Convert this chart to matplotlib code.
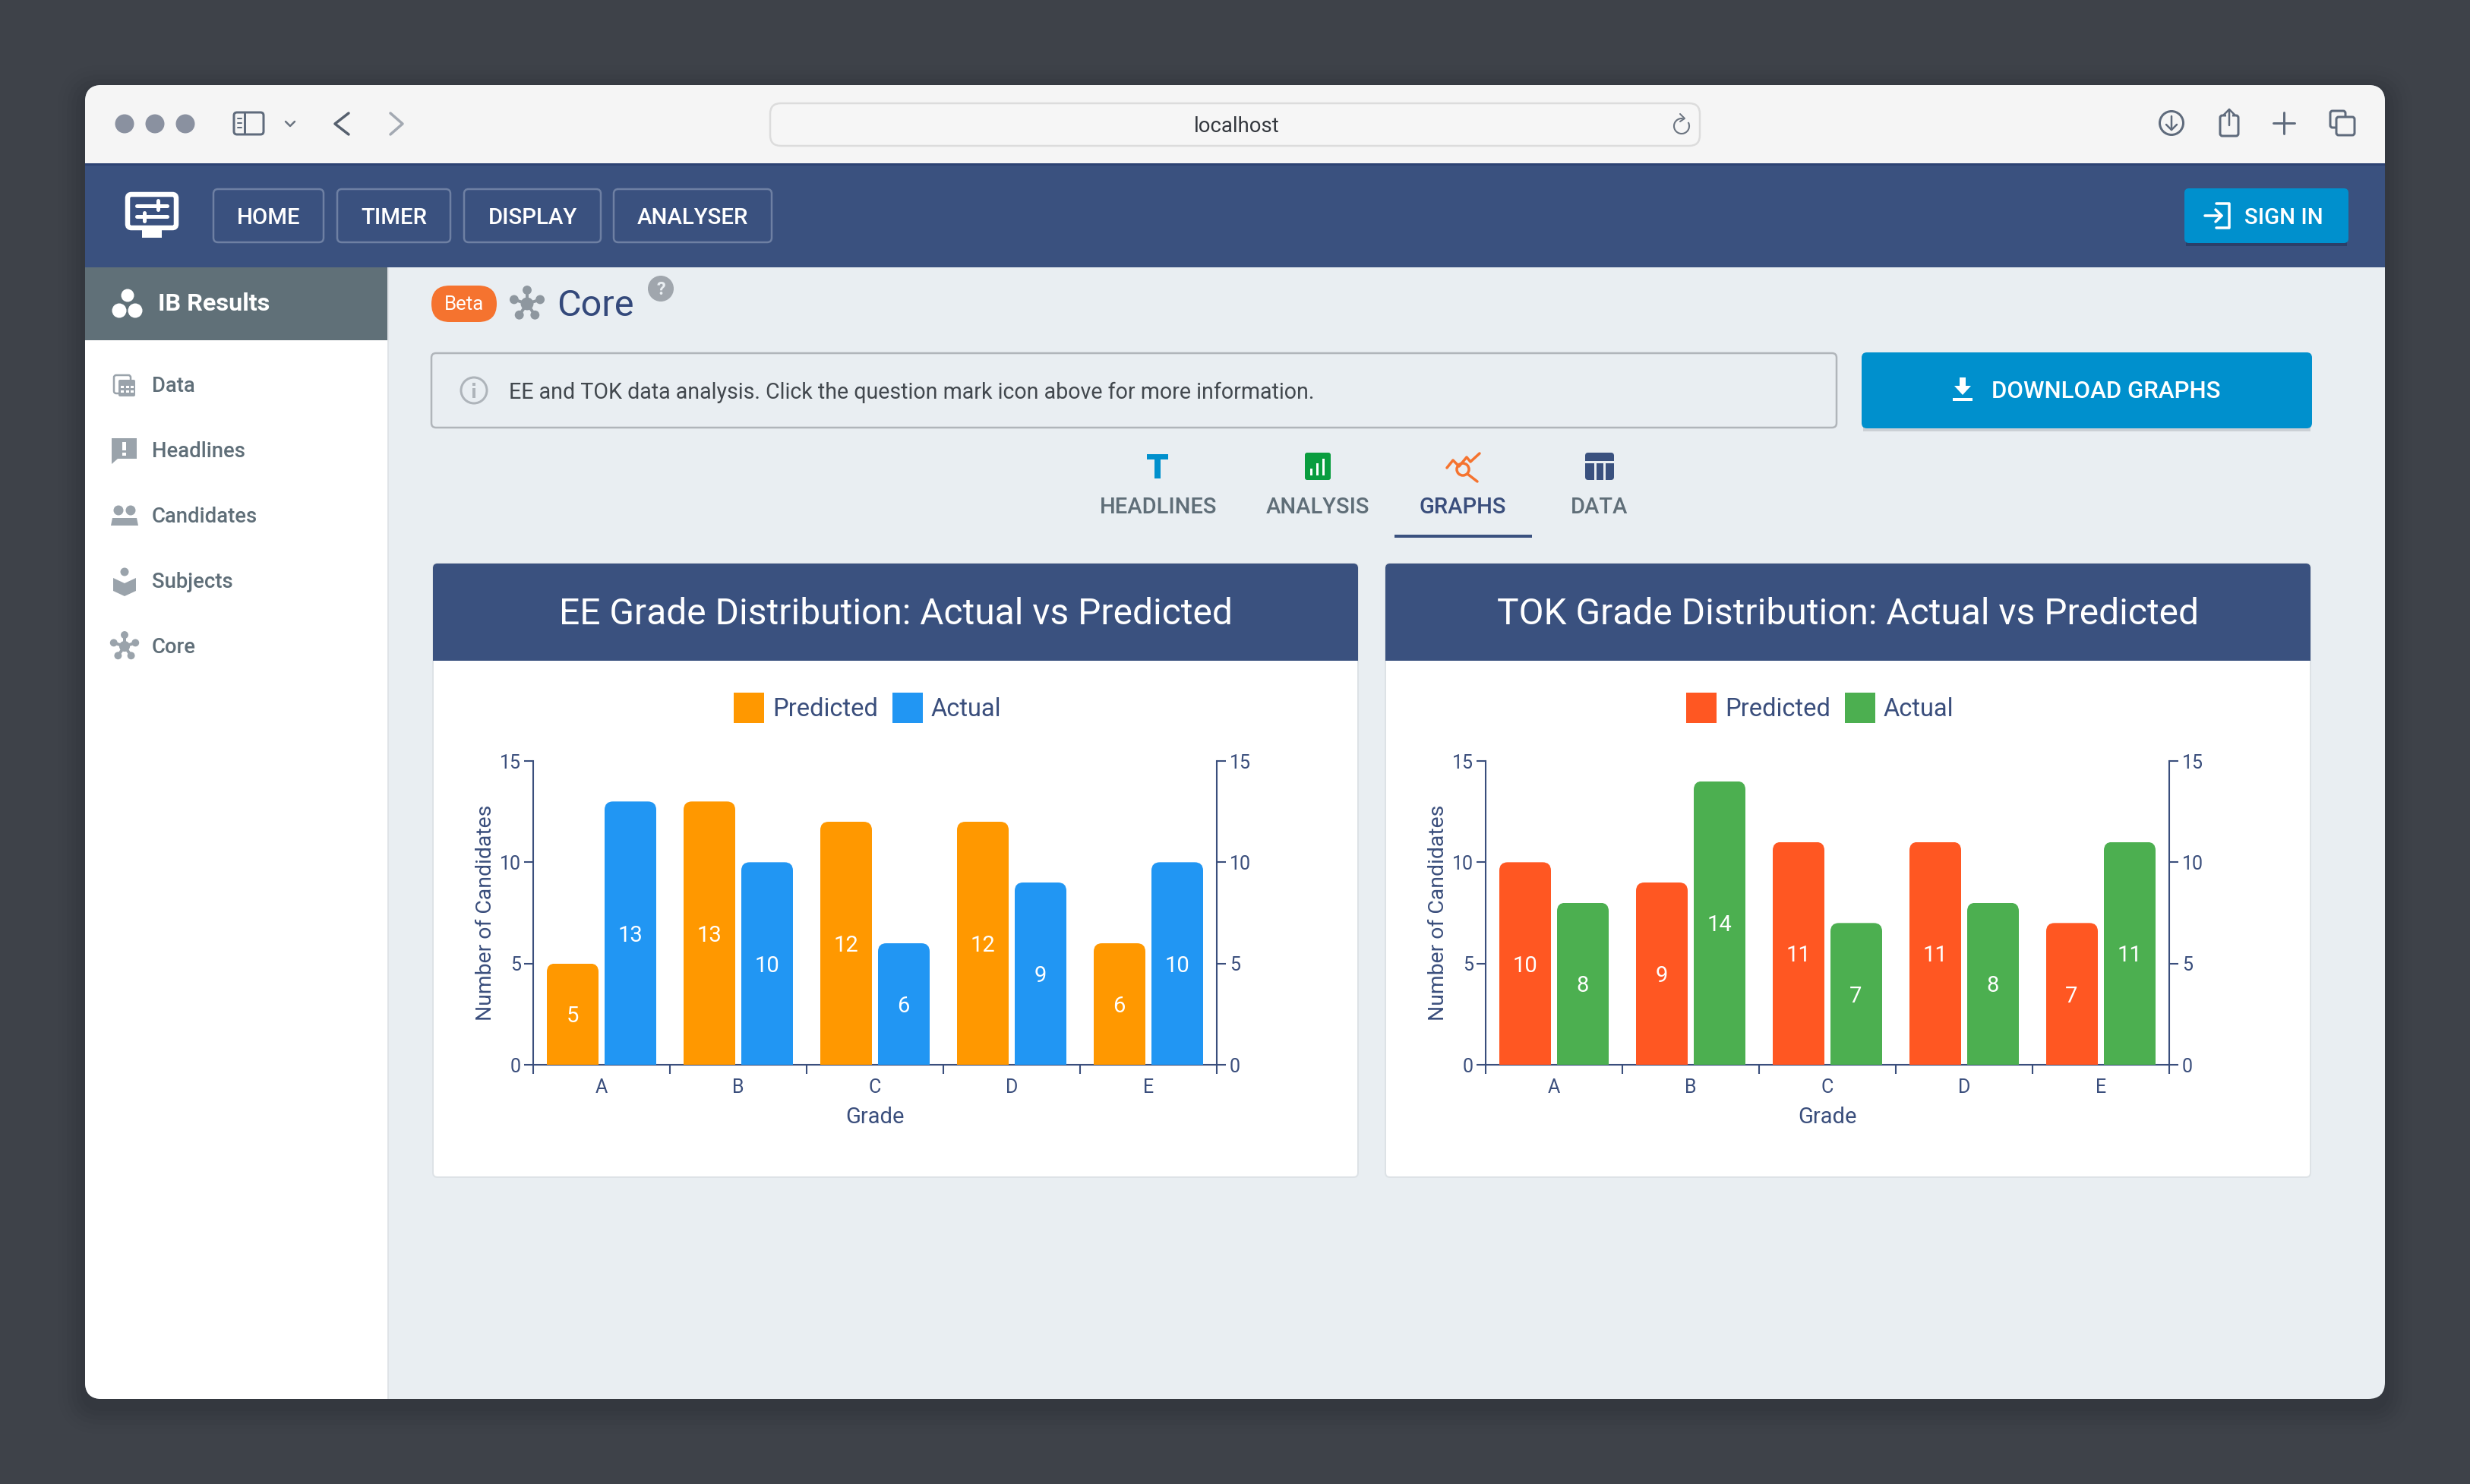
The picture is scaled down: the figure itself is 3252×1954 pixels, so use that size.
import numpy as np
import matplotlib
matplotlib.use("Agg")
import matplotlib.pyplot as plt
from matplotlib.patches import FancyBboxPatch, Circle, Rectangle, Polygon
from matplotlib.path import Path

# ---- data ----
grades = ["A", "B", "C", "D", "E"]
ee_predicted = [5, 13, 12, 12, 6]
ee_actual = [13, 10, 6, 9, 10]
tok_predicted = [10, 9, 11, 11, 7]
tok_actual = [8, 14, 7, 8, 11]
y_ticks = [0, 5, 10, 15]
series_names = ["Predicted", "Actual"]
ee_colors = ["#FF9800", "#2196F3"]
tok_colors = ["#FF5722", "#4CAF50"]
chart_titles = ["EE Grade Distribution: Actual vs Predicted", "TOK Grade Distribution: Actual vs Predicted"]
nav_items = ["HOME", "TIMER", "DISPLAY", "ANALYSER"]
side_items = ["Data", "Headlines", "Candidates", "Subjects", "Core"]
tab_items = ["HEADLINES", "ANALYSIS", "GRAPHS", "DATA"]

W, H = 3252, 1954
NAVY = "#3A517F"
TXT = "#3A4E7C"
BLUE = "#0090CD"
GREY = "#9AA3AB"
plt.rcParams["font.family"] = ["Roboto", "DejaVu Sans"]

fig = plt.figure(figsize=(W / 100, H / 100), dpi=100, facecolor="#3E4249")
bg = fig.add_axes([0, 0, 1, 1])
bg.set_xlim(0, W)
bg.set_ylim(H, 0)
bg.axis("off")


def rr(x0, y0, x1, y1, r=0, fc="none", ec="none", lw=0, z=2, clip=None, alpha=None):
    p = FancyBboxPatch((x0, y0), x1 - x0, y1 - y0, boxstyle=f"round,pad=0,rounding_size={r}",
                       fc=fc, ec=ec, lw=lw * 0.72, zorder=z, alpha=alpha)
    bg.add_patch(p)
    if clip is not None:
        p.set_clip_path(clip)
    return p


def rect(x0, y0, x1, y1, fc, z=2, clip=None):
    p = Rectangle((x0, y0), x1 - x0, y1 - y0, fc=fc, ec="none", zorder=z)
    bg.add_patch(p)
    if clip is not None:
        p.set_clip_path(clip)
    return p


def line(xs, ys, c, lw=3, z=5):
    bg.plot(xs, ys, color=c, lw=lw * 0.72, zorder=z, solid_capstyle="round", solid_joinstyle="round")


def circ(x, y, r, fc="none", ec="none", lw=0, z=5):
    bg.add_patch(Circle((x, y), r, fc=fc, ec=ec, lw=lw * 0.72, zorder=z))


def txt(x, y, s, size, color, ha="left", weight="normal", z=6):
    bg.text(x, y - 2, s, fontsize=size, color=color, ha=ha, va="center_baseline", fontweight=weight, zorder=z)


def hub(cx, cy, s, c):
    for a in [90, 18, 162, -55, 235]:
        dx, dy = np.cos(np.radians(a)) * s, -np.sin(np.radians(a)) * s
        line([cx, cx + dx], [cy, cy + dy], c, 4)
        circ(cx + dx, cy + dy, s * 0.33, fc=c)
    circ(cx, cy, s * 0.47, fc=c)


# window with shadow
for i, a in zip(range(6), [0.03, 0.03, 0.04, 0.05, 0.05, 0.06]):
    g = (6 - i) * 6
    rr(112 - g, 112 - g + 10, 3140 + g, 1842 + g + 10, 22 + g, fc="#22252a", alpha=a, z=1)
win = rr(112, 112, 3140, 1842, 22, fc="#E9EEF2", z=2)
rect(112, 112, 3140, 217, "#F5F5F5", 3, win)
rect(112, 215, 3140, 352, NAVY, 3, win)
rect(112, 215, 3140, 218, "#2C4272", 3, win)
rect(112, 352, 510, 1842, "#FFFFFF", 3, win)
rect(510, 352, 512, 1842, "#DFE3E7", 3, win)
rect(112, 352, 510, 448, "#607078", 4, win)

# toolbar
for x in [164, 204, 244]:
    circ(x, 163, 12.5, fc="#8A91A0")
rr(308, 148, 347, 177, 4, ec="#5F6B7C", lw=3, z=5)
line([322, 322], [149, 176], "#5F6B7C", 3)
line([313, 318], [156, 156], "#5F6B7C", 2)
line([313, 318], [162, 162], "#5F6B7C", 2)
line([313, 318], [168, 168], "#5F6B7C", 2)
line([376, 382, 388], [160, 166, 160], "#6B7480", 2.5)
line([459, 441, 459], [149, 163, 177], "#56606E", 3.5)
line([514, 530, 514], [149, 163, 177], "#A3A9B2", 3.5)
rr(1014, 136, 2238, 192, 14, fc="#F6F6F6", ec="#DCDCDC", lw=2.5, z=4)
txt(1628, 165, "localhost", 19.8, "#33373D", ha="center")
bg.add_patch(matplotlib.patches.Arc((2214, 166), 20, 20, theta1=-30, theta2=280, ec="#6B7480", lw=1.5, zorder=5))
line([2212, 2218, 2212], [150, 156, 160], "#6B7480", 2)
circ(2859, 162, 15.5, ec="#5F6B7C", lw=3)
line([2859, 2859], [153, 171], "#5F6B7C", 2.5)
line([2852, 2859, 2866], [164, 171, 164], "#5F6B7C", 2.5)
rr(2923, 152, 2947, 179, 3, ec="#5F6B7C", lw=3, z=5)
rect(2931, 146, 2939, 156, "#F5F5F5", 5)
line([2935, 2935], [144, 165], "#5F6B7C", 2.5)
line([2928, 2935, 2942], [151, 144, 151], "#5F6B7C", 2.5)
line([2993, 3021], [162, 162], "#5F6B7C", 3)
line([3007, 3007], [148, 176], "#5F6B7C", 3)
rr(3068, 146, 3088, 168, 3, ec="#5F6B7C", lw=3, z=5)
rr(3076, 154, 3100, 178, 3, fc="#F5F5F5", ec="#5F6B7C", lw=3, z=5)

# navigation band
rr(168, 256, 232, 300, 5, fc=NAVY, ec="#FFFFFF", lw=6.5, z=5)
rect(187, 300, 213, 313, "#FFFFFF", 5)
line([180, 220], [271, 271], "#FFFFFF", 5, 6)
line([180, 220], [285, 285], "#FFFFFF", 5, 6)
line([208, 208], [264, 276], "#FFFFFF", 5, 6)
line([190, 190], [280, 291], "#FFFFFF", 5, 6)
nav_x = [(281, 426), (444, 593), (611, 791), (808, 1016)]
for (a, b), s in zip(nav_x, nav_items):
    rr(a, 249, b, 319, 6, ec="#6E80A3", lw=2.5, z=5)
    txt((a + b) / 2, 286, s, 21.2, "#FFFFFF", ha="center", weight="medium")
rect(2878, 252, 3090, 324, "#2C3F68", 4)
rr(2876, 248, 3092, 320, 6, fc=BLUE, z=5)
txt(2955, 286, "SIGN IN", 21.2, "#FFFFFF", weight="medium", z=7)
line([2903, 2925], [284, 284], "#FFFFFF", 3.5, 7)
line([2917, 2925, 2917], [276, 284, 292], "#FFFFFF", 3.5, 7)
line([2918, 2935, 2935, 2918], [268, 268, 300, 300], "#FFFFFF", 3.5, 7)

# side menu
circ(168, 389, 8.5, fc="#FFFFFF")
circ(157, 409, 9.5, fc="#FFFFFF")
circ(178, 409, 9.5, fc="#FFFFFF")
txt(208, 399, "IB Results", 23.3, "#FFFFFF", weight="bold")
side_y = [507, 593, 679, 765, 851]
for y, s in zip(side_y, side_items):
    txt(200, y, s, 19.8, "#5F6E78", weight="medium")
# Data icon
rr(150, 494, 172, 518, 3, ec=GREY, lw=2.5, z=5)
rr(156, 500, 178, 522, 2, fc=GREY, z=5)
for i in range(3):
    for j in range(2):
        rect(159 + i * 6.5, 508 + j * 6, 163 + i * 6.5, 511 + j * 6, "#FFFFFF", 6)
# Headlines icon
bg.add_patch(Polygon([(147, 577), (180, 577), (180, 604), (155, 604), (147, 611)], fc=GREY, ec="none", zorder=5))
rect(161, 582, 166, 593, "#FFFFFF", 6)
rect(161, 596, 166, 600, "#FFFFFF", 6)
# Candidates icon
circ(156, 672, 6.5, fc=GREY)
circ(172, 672, 6.5, fc=GREY)
bg.add_patch(Polygon([(146, 692), (148, 682), (164, 682), (164, 692)], fc=GREY, ec="none", zorder=5))
bg.add_patch(Polygon([(164, 692), (164, 682), (180, 682), (182, 692)], fc=GREY, ec="none", zorder=5))
# Subjects icon
circ(164, 753, 5.5, fc=GREY)
bg.add_patch(Polygon([(149, 761), (164, 768), (179, 761), (179, 778), (164, 785), (149, 778)], fc=GREY, ec="none", zorder=5))
hub(164, 851, 15, GREY)

# page heading
rr(568, 376, 654, 424, 24, fc="#F5732F", z=5)
txt(611, 400, "Beta", 18.5, "#FFFFFF", ha="center")
hub(694, 400, 18, "#8E979F")
txt(733, 400, "Core", 35, "#34497B")
circ(870, 380, 17, fc="#A0A6AD")
txt(870, 381, "?", 17, "#E9EEF2", ha="center", weight="bold")

# alert and download
rr(568, 465, 2418, 563, 6, ec="#B0B5BA", lw=2.5, z=4)
circ(624, 514, 17, ec="#AEB4BA", lw=3)
rect(622, 511, 626, 524, "#AEB4BA", 5)
rect(622, 504, 626, 508, "#AEB4BA", 5)
txt(670, 516, "EE and TOK data analysis. Click the question mark icon above for more information.", 20.65, "#42484E")
rect(2453, 470, 3042, 568, "#CBD0D5", 3)
rr(2451, 464, 3044, 564, 7, fc=BLUE, z=4)
txt(2622, 515, "DOWNLOAD GRAPHS", 22.5, "#FFFFFF", weight="medium")
bg.add_patch(Polygon([(2580, 497), (2588, 497), (2588, 508), (2595, 508), (2584, 520), (2573, 508), (2580, 508)], fc="#FFFFFF", ec="none", zorder=6))
rect(2571, 524, 2597, 528, "#FFFFFF", 6)

# tabs
tab_x = [1525, 1735, 1926, 2106]
for x, s in zip(tab_x, tab_items):
    txt(x, 667, s, 21, TXT if s == "GRAPHS" else "#5F6E78", ha="center", weight="medium")
rect(1510, 598, 1538, 605, BLUE, 5)
rect(1520, 598, 1528, 630, BLUE, 5)
rr(1718, 596, 1752, 632, 3, fc="#0A9D3F", z=5)
rect(1725, 617, 1728, 626, "#FFFFFF", 6)
rect(1733, 610, 1736, 626, "#FFFFFF", 6)
rect(1741, 604, 1744, 626, "#FFFFFF", 6)
line([1905, 1913, 1921, 1931, 1936, 1948], [616, 606, 614, 602, 608, 597], "#F5732F", 3.5)
circ(1926, 618, 8, ec="#F5732F", lw=3.5)
line([1932, 1945], [624, 634], "#F5732F", 3.5)
rr(2087, 596, 2125, 632, 4, fc=NAVY, z=5)
rect(2087, 607, 2125, 610, "#E9EEF2", 6)
rect(2099, 608, 2102, 632, "#E9EEF2", 6)
rect(2111, 608, 2114, 632, "#E9EEF2", 6)
rect(1836, 704, 2017, 708, NAVY, 5)


def panel(card_x0, axes_x0, title, pred, act, colors):
    card_x1 = card_x0 + 1218
    rr(card_x0, 742, card_x1, 1550, 6, fc="#FFFFFF", ec="#DDE2E6", lw=2, z=4)
    card = rr(card_x0, 742, card_x1, 1550, 6, fc="none", z=4)
    rect(card_x0, 742, card_x1, 870, NAVY, 5, card)
    txt(card_x0 + 609, 806, title, 34.5, "#FFFFFF", ha="center", z=7)

    ax = fig.add_axes([axes_x0 / W, 1 - 1402 / H, 900 / W, 400 / H], zorder=5)
    ax.patch.set_visible(False)
    ax.set_xlim(0, 5)
    ax.set_ylim(0, 15)
    pos = np.arange(len(grades)) + 0.5
    bw = 68 / 180
    off = 38 / 180
    rx = 11 / 180
    ry = 11 / (400 / 15)
    for xs, vals, col, name in [(pos - off, pred, colors[0], series_names[0]),
                                (pos + off, act, colors[1], series_names[1])]:
        bars = ax.bar(xs, vals, width=bw, color=col, label=name, zorder=3)
        for b, v in zip(bars, vals):
            x0, x1 = b.get_x(), b.get_x() + b.get_width()
            verts = [(x0, 0), (x0, v - ry), (x0, v), (x0 + rx, v), (x1 - rx, v), (x1, v), (x1, v - ry), (x1, 0), (x0, 0)]
            codes = [Path.MOVETO, Path.LINETO, Path.CURVE3, Path.CURVE3, Path.LINETO, Path.CURVE3, Path.CURVE3, Path.LINETO, Path.CLOSEPOLY]
            b.set_clip_path(Path(verts, codes), ax.transData)
            ax.text(x0 + bw / 2 - 0.003, v / 2, str(v), color="#FFFFFF", fontsize=21, ha="center", va="center_baseline", zorder=4)

    for s in ["left", "right", "bottom"]:
        ax.spines[s].set_color(TXT)
        ax.spines[s].set_linewidth(1.5)
    ax.spines["top"].set_visible(False)
    ax.set_yticks(y_ticks)
    ax.tick_params(axis="y", left=True, right=False, length=8.6, width=1.5, color=TXT,
                   labelcolor=TXT, labelsize=18, pad=3)
    ax.set_xticks(range(6))
    ax.set_xticklabels([])
    ax.set_xticks(pos, labels=grades, minor=True)
    ax.tick_params(axis="x", which="major", length=8.6, width=1.5, color=TXT)
    ax.tick_params(axis="x", which="minor", length=0, labelcolor=TXT, labelsize=18, pad=13)
    ax.set_xlabel("Grade", fontsize=21, color=TXT, va="center")
    ax.xaxis.set_label_coords(0.5, -(1471 - 1402) / 400)
    ax.set_ylabel("Number of Candidates", fontsize=20.4, color=TXT, va="center")
    ax.yaxis.set_label_coords(-63 / 900, 0.5)

    twin = ax.twinx()
    twin.set_ylim(0, 15)
    twin.set_yticks(y_ticks)
    for s in twin.spines.values():
        s.set_visible(False)
    twin.tick_params(axis="y", length=8.6, width=1.5, color=TXT, labelcolor=TXT, labelsize=18, pad=3.5)

    fs = 23.5 / 0.72
    ax.legend(loc="center", bbox_to_anchor=((axes_x0 + 440) / W, 1 - 932 / H), bbox_transform=fig.transFigure,
              ncol=2, frameon=False, fontsize=23.5, labelcolor=TXT, handlelength=40 / fs, handleheight=1.51,
              handletextpad=11 / fs, columnspacing=19 / fs, borderpad=0, borderaxespad=0)


panel(570, 702, chart_titles[0], ee_predicted, ee_actual, ee_colors)
panel(1824, 1956, chart_titles[1], tok_predicted, tok_actual, tok_colors)

fig.savefig("out.png", dpi=100, facecolor=fig.get_facecolor())
